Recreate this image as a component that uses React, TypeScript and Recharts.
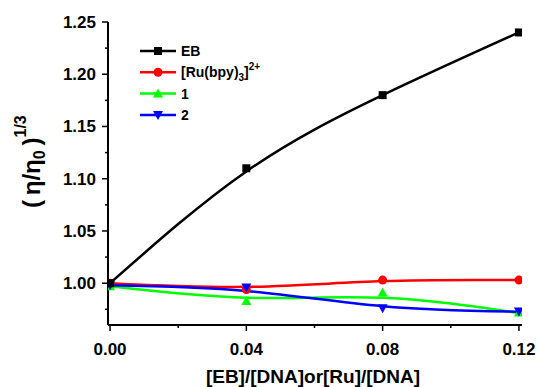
import React from 'react';
import { ComposedChart, Line, XAxis, YAxis } from 'recharts';

const xValues = [0, 0.04, 0.08, 0.12];
const ebPoints = [1.0, 1.11, 1.18, 1.24];
const ebFit = [1.0, 1.107, 1.18, 1.24];
const ruPoints = [1.0, 0.994, 1.003, 1.003];
const ruFit = [1.0, 0.9965, 1.002, 1.003];
const c1Points = [0.997, 0.983, 0.991, 0.972];
const c1Fit = [0.997, 0.986, 0.986, 0.9715];
const c2Points = [0.998, 0.996, 0.976, 0.973];
const c2Fit = [0.998, 0.9926, 0.978, 0.9727];

const xTicks = [0, 0.02, 0.04, 0.06, 0.08, 0.1, 0.12];
const xMajor = ['0.00', '', '0.04', '', '0.08', '', '0.12'];
const yTicks = [0.975, 1.0, 1.025, 1.05, 1.075, 1.1, 1.125, 1.15, 1.175, 1.2, 1.225, 1.25];

const data = xValues.map((x, i) => ({
  x,
  ebP: ebPoints[i],
  ebF: ebFit[i],
  ruP: ruPoints[i],
  ruF: ruFit[i],
  c1P: c1Points[i],
  c1F: c1Fit[i],
  c2P: c2Points[i],
  c2F: c2Fit[i],
}));

const FONT = '"Liberation Sans", Arial, sans-serif';

type Shape = 'square' | 'circle' | 'up' | 'down';

const markerEl = (shape: Shape, cx: number, cy: number, color: string, key?: any) => {
  if (shape === 'square') return <rect key={key} x={cx - 4} y={cy - 4} width={8} height={8} fill={color} />;
  if (shape === 'circle') return <circle key={key} cx={cx} cy={cy} r={4.5} fill={color} />;
  if (shape === 'up')
    return <polygon key={key} points={`${cx},${cy - 5} ${cx + 5},${cy + 4} ${cx - 5},${cy + 4}`} fill={color} />;
  return <polygon key={key} points={`${cx},${cy + 5} ${cx + 5},${cy - 4} ${cx - 5},${cy - 4}`} fill={color} />;
};

const dotFn = (shape: Shape, color: string) => (props: any) => {
  const { cx, cy, index } = props;
  if (cx == null || cy == null) return <g key={`d${index}`} />;
  return markerEl(shape, cx, cy, color, `d${index}`);
};

const XTick = (props: any) => {
  const { x, y, index } = props;
  const major = xMajor[index] !== '' && xMajor[index] !== undefined;
  return (
    <g>
      <line x1={x} y1={y} x2={x} y2={y + (major ? 6 : 3)} stroke="#000" strokeWidth={1.5} />
      {major && (
        <text x={x} y={y + 30} textAnchor="middle" fontFamily={FONT} fontWeight="bold" fontSize={17} fill="#000">
          {xMajor[index]}
        </text>
      )}
    </g>
  );
};

const YTick = (props: any) => {
  const { x, y, payload } = props;
  const v = payload.value as number;
  const major = Math.abs(Math.round(v * 20) - v * 20) < 1e-6;
  return (
    <g>
      <line x1={x} y1={y} x2={x - (major ? 6 : 3)} y2={y} stroke="#000" strokeWidth={1.5} />
      {major && (
        <text x={x - 12} y={y + 6} textAnchor="end" fontFamily={FONT} fontWeight="bold" fontSize={17} fill="#000">
          {v.toFixed(2)}
        </text>
      )}
    </g>
  );
};

const legendItems: { label: React.ReactNode; color: string; shape: Shape }[] = [
  { label: 'EB', color: '#000000', shape: 'square' },
  {
    label: (
      <>
        [Ru(bpy)
        <tspan fontSize={10} dy={4}>3</tspan>
        <tspan dy={-4}>]</tspan>
        <tspan fontSize={10} dy={-7}>2+</tspan>
      </>
    ),
    color: '#ff0000',
    shape: 'circle',
  },
  { label: '1', color: '#00ff00', shape: 'up' },
  { label: '2', color: '#0000ff', shape: 'down' },
];

const LegendBlock = ({ left, top }: { left: number; top: number }) => (
  <g transform={`translate(${left},${top})`}>
    {legendItems.map((it, i) => {
      const cy = 11 + i * 21.3;
      return (
        <g key={i}>
          <line x1={5} y1={cy} x2={41} y2={cy} stroke={it.color} strokeWidth={2.5} />
          {markerEl(it.shape, 23, cy, it.color)}
          <text x={46} y={cy + 5} fontFamily={FONT} fontWeight="bold" fontSize={14} fill="#000">
            {it.label}
          </text>
        </g>
      );
    })}
  </g>
);

export default function App() {
  return (
    <div style={{ position: 'absolute', left: 0, top: 0, width: 537, height: 387, background: '#fff' }}>
      <ComposedChart width={537} height={387} data={data} margin={{ top: 22, right: 15, left: 0, bottom: 0 }}>
        <XAxis
          dataKey="x"
          type="number"
          domain={[-0.0006, 0.1209]}
          ticks={xTicks}
          interval={0}
          tick={<XTick />}
          tickLine={false}
          tickSize={0}
          tickMargin={0}
          height={62}
          axisLine={{ stroke: '#000', strokeWidth: 2 }}
          allowDataOverflow
        />
        <XAxis
          xAxisId="top"
          orientation="top"
          dataKey="x"
          type="number"
          domain={[-0.0006, 0.1209]}
          tick={false}
          tickLine={false}
          height={0}
          axisLine={{ stroke: '#000', strokeWidth: 1 }}
        />
        <YAxis
          type="number"
          domain={[0.96, 1.25]}
          ticks={yTicks}
          interval={0}
          tick={<YTick />}
          tickLine={false}
          tickSize={0}
          tickMargin={0}
          width={108}
          axisLine={{ stroke: '#000', strokeWidth: 2 }}
          allowDataOverflow
        />
        <YAxis
          yAxisId="right"
          orientation="right"
          type="number"
          domain={[0.96, 1.25]}
          tick={false}
          tickLine={false}
          width={0}
          axisLine={{ stroke: '#000', strokeWidth: 1 }}
        />
        <Line dataKey="ruF" type="natural" stroke="#ff0000" strokeWidth={2.5} dot={false} isAnimationActive={false} legendType="none" />
        <Line dataKey="c1F" type="natural" stroke="#00ff00" strokeWidth={2.5} dot={false} isAnimationActive={false} legendType="none" />
        <Line dataKey="c2F" type="natural" stroke="#0000ff" strokeWidth={2.5} dot={false} isAnimationActive={false} legendType="none" />
        <Line dataKey="ebF" type="natural" stroke="#000000" strokeWidth={2.5} dot={false} isAnimationActive={false} legendType="none" />
        <Line dataKey="ruP" stroke="none" dot={dotFn('circle', '#ff0000')} isAnimationActive={false} legendType="none" />
        <Line dataKey="c1P" stroke="none" dot={dotFn('up', '#00ff00')} isAnimationActive={false} legendType="none" />
        <Line dataKey="c2P" stroke="none" dot={dotFn('down', '#0000ff')} isAnimationActive={false} legendType="none" />
        <Line dataKey="ebP" stroke="none" dot={dotFn('square', '#000000')} isAnimationActive={false} legendType="none" />
        <LegendBlock left={135} top={40} />
        <text
          x={0}
          y={0}
          transform="translate(40,208) rotate(-90)"
          fontFamily={FONT}
          fontWeight="bold"
          fill="#000"
        >
          <tspan fontSize={24}>{'(\u2009η/η'}</tspan>
          <tspan fontSize={16} dy={5}>0</tspan>
          <tspan fontSize={24} dy={-5}>{'\u2009)'}</tspan>
          <tspan fontSize={16} dy={-14}>1/3</tspan>
        </text>
        <text x={313} y={383} textAnchor="middle" fontFamily={FONT} fontWeight="bold" fontSize={19} fill="#000">
          [EB]/[DNA]or[Ru]/[DNA]
        </text>
      </ComposedChart>
    </div>
  );
}
